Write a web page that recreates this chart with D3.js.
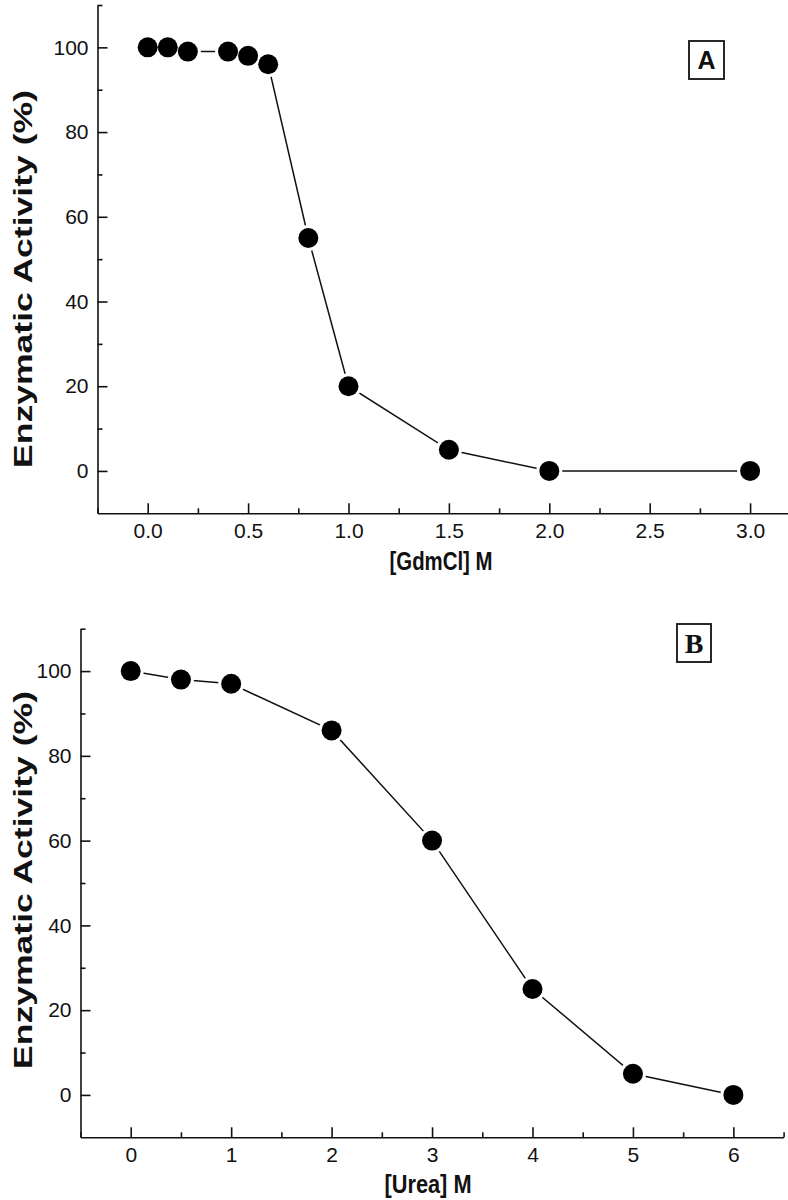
<!DOCTYPE html>
<html>
<head>
<meta charset="utf-8">
<script src="https://cdn.jsdelivr.net/npm/d3@7"></script>
<style>
  html, body { margin: 0; padding: 0; background: #fff; }
  svg { display: block; }
  text { font-family: "Liberation Sans", Arial, sans-serif; fill: #111; }
</style>
</head>
<body>
<svg id="chart" width="788" height="1200"></svg>
<script>
// ---- Data ----
const gdmX = [0, 0.1, 0.2, 0.4, 0.5, 0.6, 0.8, 1.0, 1.5, 2.0, 3.0];
const gdmY = [100, 100, 99, 99, 98, 96, 55, 20, 5, 0, 0];
const ureaX = [0, 0.5, 1, 2, 3, 4, 5, 6];
const ureaY = [100, 98, 97, 86, 60, 25, 5, 0];
const yTicks = [0, 20, 40, 60, 80, 100];
const yMinor = [10, 30, 50, 70, 90, 110];
const gdmTicks = [0, 0.5, 1.0, 1.5, 2.0, 2.5, 3.0];
const gdmMinor = [-0.25, 0.25, 0.75, 1.25, 1.75, 2.25, 2.75, 3.25];
const ureaTicks = [0, 1, 2, 3, 4, 5, 6];
const ureaMinor = [-0.5, 0.5, 1.5, 2.5, 3.5, 4.5, 5.5, 6.5];
const yTitle = "Enzymatic Activity (%)";

const svg = d3.select("#chart");

function panel(cfg) {
  const g = svg.append("g");
  const x = d3.scaleLinear().domain(cfg.xDomain).range(cfg.xRange);
  const y = d3.scaleLinear().domain([-10, 110]).range(cfg.yRange);

  // minor ticks
  g.append("g").attr("transform", `translate(${cfg.xRange[0]},0)`)
    .call(d3.axisLeft(y).tickValues(yMinor).tickSize(-5).tickFormat(""))
    .call(s => s.select(".domain").remove());
  g.append("g").attr("transform", `translate(0,${cfg.yRange[0]})`)
    .call(d3.axisBottom(x).tickValues(cfg.xMinor).tickSize(-5).tickFormat(""))
    .call(s => s.select(".domain").remove());

  // major axes
  const ya = g.append("g").attr("transform", `translate(${cfg.xRange[0]},0)`)
    .call(d3.axisLeft(y).tickValues(yTicks).tickSize(-10).tickSizeOuter(0).tickPadding(9).tickFormat(d3.format("d")));
  const xa = g.append("g").attr("transform", `translate(0,${cfg.yRange[0]})`)
    .call(d3.axisBottom(x).tickValues(cfg.xTicks).tickSize(-10).tickSizeOuter(0).tickPadding(10).tickFormat(cfg.fmt));
  [ya, xa].forEach(a => {
    a.attr("font-size", 21).attr("font-family", '"Liberation Sans", Arial, sans-serif');
    a.selectAll("path,line").attr("stroke", "#111").attr("stroke-width", 1.6);
    a.selectAll("text").attr("font-size", 21).attr("fill", "#111");
  });
  g.selectAll("g.tick line").attr("stroke", "#111").attr("stroke-width", 1.6);

  // line
  const pts = cfg.xs.map((v, i) => [v, cfg.ys[i]]);
  g.append("path").datum(pts)
    .attr("fill", "none").attr("stroke", "#111").attr("stroke-width", 1.5)
    .attr("d", d3.line().x(d => x(d[0])).y(d => y(d[1])));
  g.append("g").selectAll("circle").data(pts).join("circle")
    .attr("cx", d => x(d[0])).attr("cy", d => y(d[1])).attr("r", 13).attr("fill", "#fff");
  g.append("g").selectAll("circle").data(pts).join("circle")
    .attr("cx", d => x(d[0])).attr("cy", d => y(d[1])).attr("r", 10).attr("fill", "#000");

  // y title
  g.append("text")
    .attr("transform", `translate(32,${cfg.yTitleY}) rotate(-90)`)
    .attr("text-anchor", "middle").attr("font-weight", "bold").attr("font-size", 26)
    .attr("textLength", 378).attr("lengthAdjust", "spacingAndGlyphs")
    .text(yTitle);
  // x title
  g.append("text")
    .attr("x", cfg.xTitleX).attr("y", cfg.xTitleY)
    .attr("text-anchor", "middle").attr("font-weight", "bold").attr("font-size", 25)
    .attr("textLength", cfg.xTitleLen).attr("lengthAdjust", "spacingAndGlyphs")
    .text(cfg.xTitle);

  // panel label box
  const b = cfg.box;
  g.append("rect").attr("x", b.x).attr("y", b.y).attr("width", b.w).attr("height", b.h)
    .attr("fill", "#fff").attr("stroke", "#111").attr("stroke-width", 1.8);
  g.append("text").attr("x", b.x + b.w / 2).attr("y", b.y + b.h / 2 + b.size * 0.36)
    .attr("text-anchor", "middle").attr("font-weight", "bold")
    .attr("font-size", b.size).style("font-family", b.font).text(b.label);
}

panel({
  xDomain: [-0.25, 3.25], xRange: [97.5, 800.3], yRange: [513.3, 5],
  xTicks: gdmTicks, xMinor: gdmMinor, fmt: d3.format(".1f"),
  xs: gdmX, ys: gdmY,
  yTitleY: 279, xTitle: "[GdmCl] M", xTitleX: 441, xTitleY: 570, xTitleLen: 103,
  box: {x: 689, y: 41, w: 35, h: 38, label: "A", size: 25, font: '"Liberation Sans", Arial, sans-serif'}
});
panel({
  xDomain: [-0.5, 6.5], xRange: [80.5, 783.6], yRange: [1137.3, 628.7],
  xTicks: ureaTicks, xMinor: ureaMinor, fmt: d3.format("d"),
  xs: ureaX, ys: ureaY,
  yTitleY: 880, xTitle: "[Urea] M", xTitleX: 428, xTitleY: 1193, xTitleLen: 87,
  box: {x: 677, y: 624, w: 34, h: 38, label: "B", size: 28, font: '"Liberation Serif", "Times New Roman", serif'}
});
</script>
</body>
</html>
